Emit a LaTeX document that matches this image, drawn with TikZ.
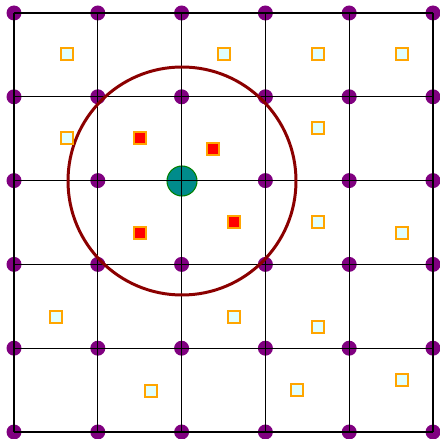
\documentclass[tikz,border=0pt]{standalone}
\usepackage{xcolor}
\usepackage{tikz}

\definecolor{sitepurple}{RGB}{128,0,128}
\definecolor{probeteal}{RGB}{0,139,139}
\definecolor{ringred}{RGB}{139,0,0}
\definecolor{boxorange}{RGB}{255,165,0}
\definecolor{boxcyan}{RGB}{224,255,255}

\begin{document}
\begin{tikzpicture}[x=0.02cm,y=-0.02cm,
  lattice/.style={line width=0.6pt, black},
  site/.style={fill=sitepurple},
  ring/.style={draw=ringred, line width=1.7pt},
  probe/.style={fill=probeteal, draw=black!50!green, line width=0.6pt},
  cand/.style={draw=boxorange, fill=boxcyan, line width=1.6pt},
  hit/.style={draw=boxorange, fill=red, line width=1.6pt}]
\useasboundingbox (0,0) rectangle (440,439);
\coordinate (c) at (182,181);
% lattice points
\foreach \i in {0,...,5}
  \foreach \j in {0,...,5}
    \fill[site] ({14+83.8*\i},{13+83.8*\j}) circle (7.5);
% query point
\filldraw[probe] (c) circle (15);
% grid
\foreach \i in {0,...,5} {
  \draw[lattice] ({14+83.8*\i},13) -- ({14+83.8*\i},432);
  \draw[lattice] (14,{13+83.8*\i}) -- (433,{13+83.8*\i});
}
% search radius
\draw[ring] (c) circle (114);
% points outside
\foreach \x/\y in {67/54, 224/54, 318/54, 402/54, 67/138, 318/128,
                   318/222, 402/233, 56/317, 234/317, 318/327,
                   151/391, 297/390, 402/380}
  \draw[cand] (\x-6,\y-6) rectangle (\x+6,\y+6);
% points inside
\foreach \x/\y in {140/138, 213/149, 140/233, 234/222}
  \draw[hit] (\x-6,\y-6) rectangle (\x+6,\y+6);
\end{tikzpicture}
\end{document}
